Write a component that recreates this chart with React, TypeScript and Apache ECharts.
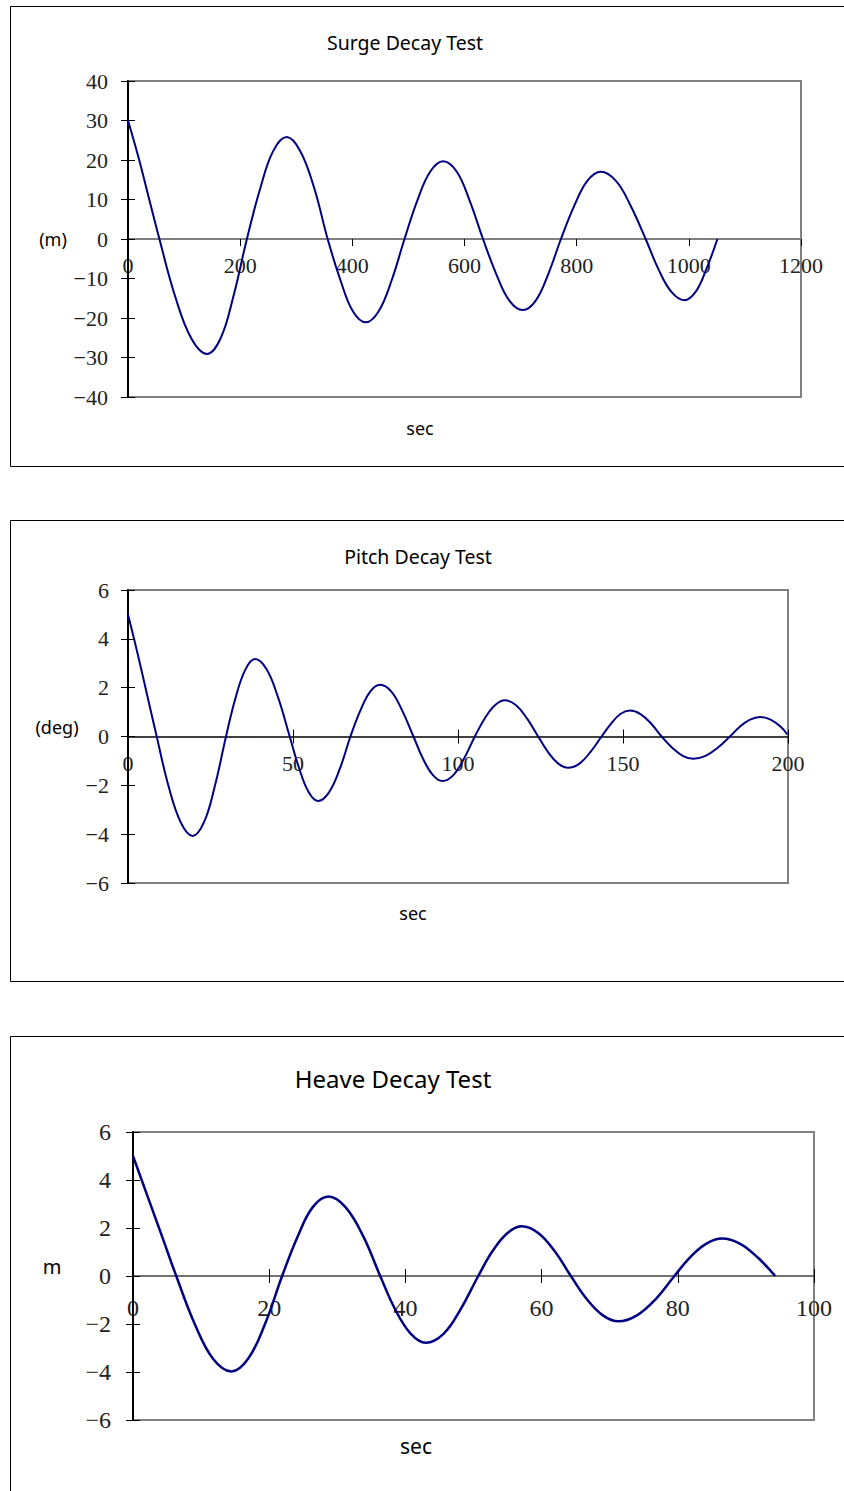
import React, { useEffect, useRef } from "react";
import * as echarts from "echarts";

// ---------- data ----------
const surgeTime = [0, 19, 37, 56, 84, 113, 141, 165, 188, 212, 236, 259, 283, 307, 332, 356, 379, 401, 424, 447, 470, 493, 516, 539, 562, 586, 609, 633, 657, 680, 704, 727, 749, 772, 796, 819, 843, 870, 896, 923, 946, 969, 992, 1012, 1031, 1051];
const surgeValue = [30, 20.5, 10.5, 0, -14.5, -25.2, -29.1, -25.2, -14.5, 0, 12.9, 22.3, 25.8, 22.3, 12.9, 0, -10.5, -18.3, -21.1, -18.3, -10.5, 0, 9.8, 17.1, 19.7, 17.1, 9.8, 0, -9.0, -15.6, -18.0, -15.6, -9.0, 0, 8.5, 14.7, 17.0, 14.7, 8.5, 0, -7.7, -13.4, -15.5, -13.4, -7.7, 0];

const pitchTime = [0, 2.9, 5.8, 8.7, 12.3, 16.0, 19.6, 23.0, 26.3, 29.7, 32.6, 35.6, 38.5, 42.0, 45.5, 49, 51.9, 54.8, 57.7, 60.9, 64.2, 67.4, 70.4, 73.4, 76.4, 79.8, 83.1, 86.5, 89.4, 92.4, 95.3, 98.6, 101.8, 105.1, 108.1, 111.2, 114.2, 117.6, 120.9, 124.3, 127.3, 130.4, 133.4, 136.8, 140.1, 143.5, 146.4, 149.2, 152.1, 155.3, 158.5, 161.7, 164.9, 168.1, 171.3, 175.0, 178.7, 182.4, 185.4, 188.5, 191.5, 194.7, 197.8, 199.8];
const pitchValue = [5.0, 3.4, 1.7, 0, -2.04, -3.52, -4.07, -3.52, -2.04, 0, 1.59, 2.75, 3.17, 2.75, 1.59, 0, -1.32, -2.29, -2.64, -2.29, -1.32, 0, 1.06, 1.84, 2.12, 1.84, 1.06, 0, -0.91, -1.58, -1.82, -1.58, -0.91, 0, 0.74, 1.28, 1.48, 1.28, 0.74, 0, -0.64, -1.11, -1.28, -1.11, -0.64, 0, 0.53, 0.92, 1.06, 0.92, 0.53, 0, -0.46, -0.79, -0.91, -0.79, -0.46, 0, 0.4, 0.69, 0.8, 0.69, 0.4, 0.08];

const heaveTime = [0, 2.1, 4.2, 6.35, 9.05, 11.75, 14.45, 16.9, 19.4, 21.9, 24.2, 26.4, 28.7, 31.2, 33.8, 36.3, 38.5, 40.8, 43.0, 45.6, 48.1, 50.7, 52.8, 55.0, 57.1, 59.5, 61.9, 64.3, 66.6, 69.0, 71.3, 74.0, 76.8, 79.5, 81.8, 84.2, 86.5, 89.1, 91.7, 94.3];
const heaveValue = [5.0, 3.35, 1.7, 0, -1.99, -3.45, -3.98, -3.45, -1.99, 0, 1.66, 2.87, 3.31, 2.87, 1.66, 0, -1.39, -2.41, -2.78, -2.41, -1.39, 0, 1.04, 1.79, 2.07, 1.79, 1.04, 0, -0.95, -1.64, -1.89, -1.64, -0.95, 0, 0.78, 1.35, 1.56, 1.35, 0.78, 0];

// axis ranges / tick steps
const surgeXAxis = { min: 0, max: 1200, interval: 200 };
const surgeYAxis = { min: -40, max: 40, interval: 10 };
const pitchXAxis = { min: 0, max: 200, interval: 50 };
const pitchYAxis = { min: -6, max: 6, interval: 2 };
const heaveXAxis = { min: 0, max: 100, interval: 20 };
const heaveYAxis = { min: -6, max: 6, interval: 2 };

const chartTitles = ["Surge Decay Test", "Pitch Decay Test", "Heave Decay Test"];
const yAxisNames = ["(m)", "(deg)", "m"];
const xAxisName = "sec";

// ---------- layout / style ----------
const SERIF = "'Liberation Serif', 'DejaVu Serif', serif";
const SANS = "'Noto Sans', 'Open Sans', sans-serif";
const LINE = "#000080";

const panels = [
  {
    time: surgeTime, value: surgeValue, xr: surgeXAxis, yr: surgeYAxis,
    grid: { left: 128, top: 81, width: 673, height: 316 },
    labelSize: 22, xMargin: 15, yMargin: 20, zeroColor: "#7f7f7f", zeroWidth: 2, xCross: false,
    titleX: 405, titleY: 42, titleSize: 19.5,
    nameX: 53, nameY: 239, nameSize: 18,
    secX: 420, secY: 428, secSize: 18, lineWidth: 2,
    box: { y: 6, h: 460 },
  },
  {
    time: pitchTime, value: pitchValue, xr: pitchXAxis, yr: pitchYAxis,
    grid: { left: 128, top: 590, width: 660, height: 293 },
    labelSize: 22, xMargin: 16, yMargin: 19, zeroColor: "#000000", zeroWidth: 1.5, xCross: true,
    titleX: 418, titleY: 556, titleSize: 19.5,
    nameX: 57, nameY: 727, nameSize: 18,
    secX: 413, secY: 913, secSize: 18, lineWidth: 2,
    box: { y: 520, h: 461 },
  },
  {
    time: heaveTime, value: heaveValue, xr: heaveXAxis, yr: heaveYAxis,
    grid: { left: 133, top: 1132, width: 681, height: 288 },
    labelSize: 24, xMargin: 20, yMargin: 22, zeroColor: "#444444", zeroWidth: 1.5, xCross: true,
    titleX: 393, titleY: 1078, titleSize: 24,
    nameX: 52, nameY: 1266, nameSize: 20,
    secX: 416, secY: 1446, secSize: 21, lineWidth: 2.5,
    box: { y: 1036, h: 600 },
  },
];

const fmt = (v: number) => String(v).replace("-", "\u2212");

export default function App() {
  const ref = useRef<HTMLDivElement>(null);

  useEffect(() => {
    if (!ref.current) return;
    const chart = echarts.init(ref.current, undefined, { renderer: "svg" });

    const grids: any[] = [];
    const xAxes: any[] = [];
    const yAxes: any[] = [];
    const series: any[] = [];
    const graphics: any[] = [];

    panels.forEach((p, i) => {
      grids.push({
        ...p.grid,
        show: true,
        borderColor: "#808080",
        borderWidth: 2,
        backgroundColor: "#ffffff",
        containLabel: false,
      });
      // the x axis sits on the zero line (middle of the symmetric y range)
      const xOffset = -p.grid.height / 2;
      // primary x axis (labels, downward ticks)
      xAxes.push({
        gridIndex: i,
        type: "value",
        position: "bottom",
        offset: xOffset,
        min: p.xr.min, max: p.xr.max, interval: p.xr.interval,
        axisLine: { show: true, onZero: false, lineStyle: { color: p.zeroColor, width: p.zeroWidth } },
        axisTick: { show: true, inside: false, length: 7, lineStyle: { color: "#000", width: 1 } },
        axisLabel: { show: true, margin: p.xMargin, fontFamily: SERIF, fontSize: p.labelSize, color: "#222", formatter: fmt },
        splitLine: { show: false },
        z: 3,
      });
      // secondary x axis (upward ticks only)
      xAxes.push({
        gridIndex: i,
        type: "value",
        position: "bottom",
        offset: xOffset,
        min: p.xr.min, max: p.xr.max, interval: p.xr.interval,
        axisLine: { show: false, onZero: false },
        axisTick: { show: p.xCross, inside: true, length: 7, lineStyle: { color: "#000", width: 1 } },
        axisLabel: { show: false },
        splitLine: { show: false },
        z: 3,
      });
      // primary y axis
      yAxes.push({
        gridIndex: i,
        type: "value",
        position: "left",
        min: p.yr.min, max: p.yr.max, interval: p.yr.interval,
        axisLine: { show: true, onZero: false, lineStyle: { color: "#000", width: 2 } },
        axisTick: { show: true, inside: false, length: 7, lineStyle: { color: "#000", width: 1 } },
        axisLabel: { show: true, margin: p.yMargin, fontFamily: SERIF, fontSize: p.labelSize, color: "#222", formatter: fmt },
        splitLine: { show: false },
        z: 4,
      });
      // secondary y axis (inside ticks)
      yAxes.push({
        gridIndex: i,
        type: "value",
        position: "left",
        min: p.yr.min, max: p.yr.max, interval: p.yr.interval,
        axisLine: { show: false, onZero: false },
        axisTick: { show: true, inside: true, length: 7, lineStyle: { color: "#000", width: 1 } },
        axisLabel: { show: false },
        splitLine: { show: false },
        z: 4,
      });
      series.push({
        type: "line",
        xAxisIndex: 2 * i,
        yAxisIndex: 2 * i,
        data: p.time.map((t, k) => [t, p.value[k]]),
        showSymbol: false,
        symbol: "none",
        smooth: 0.4,
        lineStyle: { color: LINE, width: p.lineWidth },
        z: 5,
      });

      graphics.push({
        type: "rect",
        silent: true,
        z: -10,
        shape: { x: 10.5, y: p.box.y + 0.5, width: 900, height: p.box.h },
        style: { fill: null, stroke: "#000", lineWidth: 1 },
      });
      graphics.push({
        type: "text", silent: true, x: p.titleX, y: p.titleY,
        style: { text: chartTitles[i], fontFamily: SANS, fontSize: p.titleSize, fill: "#000", align: "center", verticalAlign: "middle", textAlign: "center", textVerticalAlign: "middle" },
      });
      graphics.push({
        type: "text", silent: true, x: p.nameX, y: p.nameY,
        style: { text: yAxisNames[i], fontFamily: SANS, fontSize: p.nameSize, fill: "#000", align: "center", verticalAlign: "middle", textAlign: "center", textVerticalAlign: "middle" },
      });
      graphics.push({
        type: "text", silent: true, x: p.secX, y: p.secY,
        style: { text: xAxisName, fontFamily: SANS, fontSize: p.secSize, fill: "#000", align: "center", verticalAlign: "middle", textAlign: "center", textVerticalAlign: "middle" },
      });
    });

    chart.setOption({
      animation: false,
      backgroundColor: "#ffffff",
      grid: grids,
      xAxis: xAxes,
      yAxis: yAxes,
      series,
      graphic: graphics,
    });

    return () => chart.dispose();
  }, []);

  return (
    <div
      ref={ref}
      style={{ position: "absolute", left: 0, top: 0, width: 844, height: 1491 }}
    />
  );
}
